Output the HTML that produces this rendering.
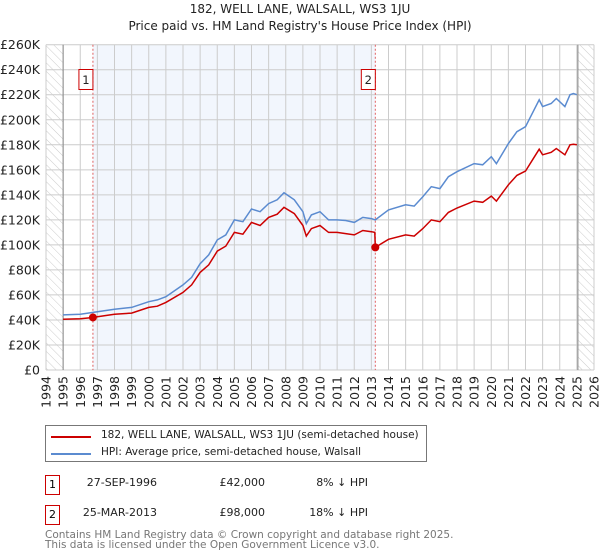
<!DOCTYPE html>
<html><head><meta charset="utf-8"><style>
body{margin:0;background:#fff;font-family:"DejaVu Sans","Liberation Sans",sans-serif;}
#wrap{position:relative;width:600px;height:560px;overflow:hidden;}
.t{position:absolute;font-size:11px;color:#222;white-space:nowrap;}
.box{position:absolute;width:15px;height:20px;border:1px solid #c00;box-sizing:border-box;font-size:11px;text-align:center;line-height:18px;}
</style></head><body><div id="wrap">
<div class="t" style="left:0;width:600px;text-align:center;top:2px;font-size:12px">182, WELL LANE, WALSALL, WS3 1JU</div>
<div class="t" style="left:0;width:600px;text-align:center;top:19px;font-size:12px">Price paid vs. HM Land Registry's House Price Index (HPI)</div>
<svg id="chart" width="600" height="425" style="position:absolute;left:0;top:0"></svg>
<div style="position:absolute;left:45px;top:425px;width:382px;height:37px;border:1px solid #777;box-sizing:border-box">
<div style="position:absolute;left:5px;top:10px;width:40px;height:2px;background:#c00"></div>
<div class="t" style="left:55px;top:3px;font-size:10.5px">182, WELL LANE, WALSALL, WS3 1JU (semi-detached house)</div>
<div style="position:absolute;left:5px;top:27px;width:40px;height:2px;background:#5b8bd0"></div>
<div class="t" style="left:55px;top:20px;font-size:10.5px">HPI: Average price, semi-detached house, Walsall</div>
</div>
<div class="box" style="left:45px;top:475px">1</div>
<div class="t" style="right:443px;top:476px">27-SEP-1996</div>
<div class="t" style="right:335px;top:476px">£42,000</div>
<div class="t" style="right:232px;top:476px">8% ↓ HPI</div>
<div class="box" style="left:45px;top:505px">2</div>
<div class="t" style="right:443px;top:506px">25-MAR-2013</div>
<div class="t" style="right:335px;top:506px">£98,000</div>
<div class="t" style="right:232px;top:506px">18% ↓ HPI</div>
<div class="t" style="left:45px;top:530px;color:#777;font-size:10.5px;line-height:10px">Contains HM Land Registry data © Crown copyright and database right 2025.<br>This data is licensed under the Open Government Licence v3.0.</div>
</div>
<script>
const hpiYears=[1995,1996,1996.75,1997,1998,1999,2000,2000.5,2001,2002,2002.5,2003,2003.5,2004,2004.5,2005,2005.5,2006,2006.5,2007,2007.5,2007.9,2008.5,2009,2009.2,2009.5,2010,2010.5,2011,2011.5,2012,2012.5,2013,2013.23,2014,2015,2015.5,2016,2016.5,2017,2017.5,2018,2019,2019.5,2020,2020.3,2021,2021.5,2022,2022.5,2022.8,2023,2023.5,2023.8,2024.3,2024.6,2024.8,2025];
const hpiValues=[44,44.5,46,46.6,48.5,50,54.6,56,58.6,68,74,85,92,104,108,120,118.5,128.7,126.5,133,136,141.7,136,126.5,117,124,126.5,120,120,119.5,118,122,121,120,128,132,131,138.5,146.5,145,154.5,158.5,165,164,170.5,165,181,190.5,194.5,208,216,210.5,213,217,210.5,220,221,220];
const priceYears=[1995,1996,1996.74,1997,1998,1999,2000,2000.5,2001,2002,2002.5,2003,2003.5,2004,2004.5,2005,2005.5,2006,2006.5,2007,2007.5,2007.9,2008.5,2009,2009.2,2009.5,2010,2010.5,2011,2011.5,2012,2012.5,2013,2013.2,2013.23,2014,2015,2015.5,2016,2016.5,2017,2017.5,2018,2019,2019.5,2020,2020.3,2021,2021.5,2022,2022.5,2022.8,2023,2023.5,2023.8,2024.3,2024.6,2024.8,2025];
const priceValues=[40.5,41,42,42.5,44.5,45.5,50,51,54,62,68,78,84,95,99,110,108.5,118,115.5,122,124.5,130,125,115.5,107,113,115.5,110,110,109,108,111.5,110.5,110,98,104.5,108,107,113,120,118.5,126,129.5,135,134,139,135,148,155.5,159,170,176.5,172,174,177,172,180,180.5,180];
const yTicks=[0,20,40,60,80,100,120,140,160,180,200,220,240,260];
const xTicks=[1994,1995,1996,1997,1998,1999,2000,2001,2002,2003,2004,2005,2006,2007,2008,2009,2010,2011,2012,2013,2014,2015,2016,2017,2018,2019,2020,2021,2022,2023,2024,2025,2026];
const sales=[[1996.74,42,"1"],[2013.23,98,"2"]];
const L=46,R=594,T=44.7,B=370;
const X=y=>L+(y-1994)/(2026-1994)*(R-L);
const Y=v=>B-v/260*(B-T);
const svg=document.getElementById('chart');const NS='http://www.w3.org/2000/svg';
function mk(tag,a,name){const e=document.createElementNS(NS,tag);for(const k in a)e.setAttribute(k,a[k]);


svg.appendChild(e);return e;}
const defs=mk('defs',{},'defs');defs.innerHTML='<pattern id="h" width="6" height="6" patternUnits="userSpaceOnUse" patternTransform="rotate(-45)"><line x1="0" y1="0" x2="0" y2="6" stroke="#ccc" stroke-width="1"/></pattern>';
mk('rect',{x:X(1996.74),y:T,width:X(2013.23)-X(1996.74),height:B-T,fill:'#f2f6fd'},'ownership-shading');
mk('rect',{x:L,y:T,width:X(1995)-L,height:B-T,fill:'url(#h)'},'hatch-left');
mk('rect',{x:X(2025.06),y:T,width:R-X(2025.06),height:B-T,fill:'url(#h)'},'hatch-right');
yTicks.forEach(v=>{mk('line',{x1:L,x2:R,y1:Y(v),y2:Y(v),stroke:'#ccc'},'y-grid');
const t=mk('text',{x:40,y:Y(v)+4.5,'text-anchor':'end','font-size':12.5,fill:'#222'},'y-tick-label');t.textContent='£'+v+(v?'K':'');});
xTicks.forEach(y=>{mk('line',{x1:X(y),x2:X(y),y1:T,y2:B,stroke:'#ccc'},'x-grid');
const t=mk('text',{x:0,y:0,'text-anchor':'end','font-size':12.5,fill:'#222',transform:`translate(${X(y)+4.5},376) rotate(-90)`},'x-tick-label');t.textContent=y;});
mk('line',{x1:X(1995),x2:X(1995),y1:T,y2:B,stroke:'#888'},'data-start-line');
mk('line',{x1:X(2025.06),x2:X(2025.06),y1:T,y2:B,stroke:'#888'},'data-end-line');
sales.forEach(s=>{mk('line',{x1:X(s[0]),x2:X(s[0]),y1:T,y2:B,stroke:'#e06060','stroke-dasharray':'2,2'},'sale-line');
mk('rect',{x:X(s[0])-14,y:69.5,width:14,height:20,fill:'#fff',stroke:'#c00'},'sale-label-box');
const t=mk('text',{x:X(s[0])-7,y:84,'text-anchor':'middle','font-size':11.5,fill:'#222'},'sale-label');t.textContent=s[2];});
const pts=(xs,vs)=>xs.map((x,i)=>X(x).toFixed(1)+','+Y(vs[i]).toFixed(1)).join(' ');
mk('polyline',{points:pts(hpiYears,hpiValues),fill:'none',stroke:'#5b8bd0','stroke-width':1.5},'hpi-line');
mk('polyline',{points:pts(priceYears,priceValues),fill:'none',stroke:'#c00','stroke-width':1.5},'price-line');
sales.forEach(s=>mk('circle',{cx:X(s[0]),cy:Y(s[1]),r:4,fill:'#c00'},'sale-point'));
</script></body></html>
